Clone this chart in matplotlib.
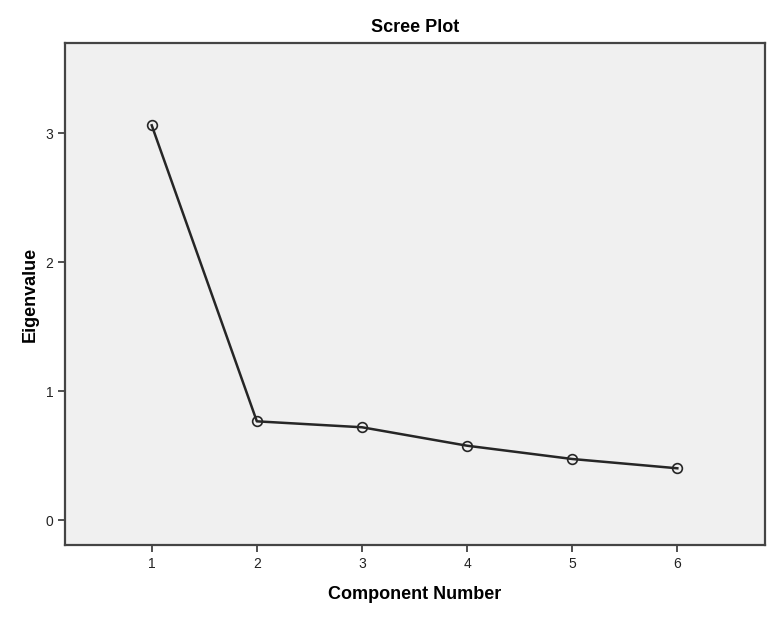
import matplotlib
matplotlib.use('Agg')
import matplotlib.pyplot as plt

plt.rcParams['font.family'] = ['Liberation Sans', 'DejaVu Sans']

components = [1, 2, 3, 4, 5, 6]
eigenvalues = [3.06, 0.765, 0.719, 0.576, 0.473, 0.401]
yticks = [0, 1, 2, 3]

fig = plt.figure(figsize=(7.74, 6.19), dpi=100)
ax = fig.add_axes([0.084, 0.1195, 0.9045, 0.811])
ax.set_facecolor('#f0f0f0')

ax.plot(components, eigenvalues, color='#262626', lw=1.8,
        marker='o', markersize=7, markerfacecolor='none',
        markeredgecolor='#262626', markeredgewidth=1.2)

ax.set_xlim(0.175, 6.835)
ax.set_ylim(-0.194, 3.698)
ax.set_xticks(components)
ax.set_yticks(yticks)
ax.tick_params(direction='out', length=5, width=1.2, color='#333333',
               labelsize=10, labelcolor='#222222')
for s in ax.spines.values():
    s.set_color('#444444')
    s.set_linewidth(1.6)

ax.set_title('Scree Plot', fontsize=13, fontweight='bold', pad=8)
ax.set_xlabel('Component Number', fontsize=13, fontweight='bold', labelpad=11)
ax.set_ylabel('Eigenvalue', fontsize=13, fontweight='bold', labelpad=5)

fig.savefig('out.png', dpi=100, facecolor='white')
